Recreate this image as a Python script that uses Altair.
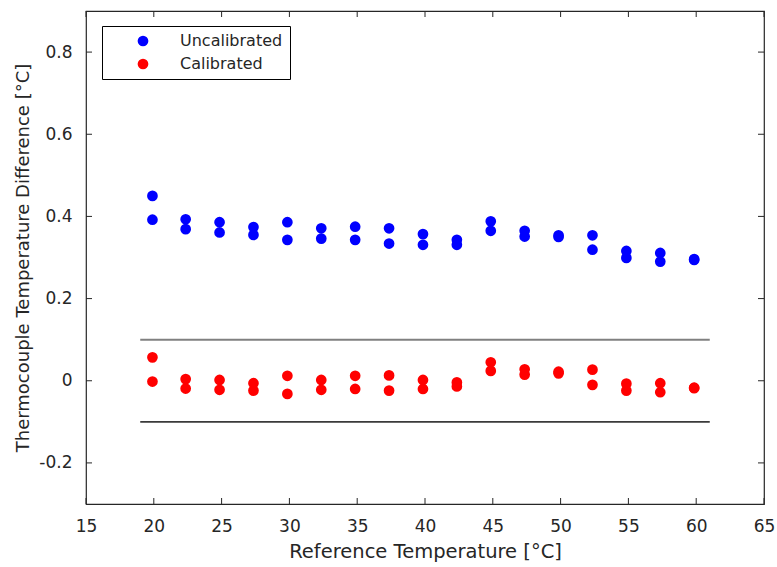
import altair as alt
import pandas as pd

# Reference temperatures (x positions of each measurement column)
ref_temp = [19.9, 22.35, 24.85, 27.35, 29.85, 32.35, 34.85, 37.35, 39.85,
            42.35, 44.85, 47.35, 49.85, 52.35, 54.85, 57.35, 59.85]
# Uncalibrated differences (two thermocouples)
uncal_a = [0.450, 0.393, 0.386, 0.374, 0.386, 0.371, 0.375, 0.371, 0.357,
           0.343, 0.388, 0.365, 0.354, 0.354, 0.316, 0.311, 0.296]
uncal_b = [0.392, 0.369, 0.361, 0.355, 0.343, 0.346, 0.343, 0.334, 0.331,
           0.331, 0.365, 0.351, 0.350, 0.319, 0.299, 0.290, 0.294]
# Calibrated differences
cal_a = [0.057, 0.004, 0.002, -0.006, 0.012, 0.002, 0.012, 0.013, 0.002,
         -0.004, 0.045, 0.028, 0.022, 0.027, -0.007, -0.006, -0.018]
cal_b = [-0.002, -0.019, -0.022, -0.024, -0.032, -0.022, -0.020, -0.024, -0.020,
         -0.014, 0.024, 0.015, 0.018, -0.010, -0.024, -0.028, -0.017]

series_names = ["Uncalibrated", "Calibrated"]
series_colors = ["#0000ff", "#ff0000"]

# Tolerance band lines
band_y = [0.1, -0.1]
band_x0 = [19, 19]
band_x1 = [61, 61]
band_colors = ["#808080", "#3a3a3a"]

x_ticks = [15, 20, 25, 30, 35, 40, 45, 50, 55, 60, 65]
y_ticks = [-0.2, 0, 0.2, 0.4, 0.6, 0.8]

rows = []
for i, t in enumerate(ref_temp):
    rows.append({"x": t, "y": uncal_a[i], "series": "Uncalibrated"})
    rows.append({"x": t, "y": uncal_b[i], "series": "Uncalibrated"})
for i, t in enumerate(ref_temp):
    rows.append({"x": t, "y": cal_a[i], "series": "Calibrated"})
    rows.append({"x": t, "y": cal_b[i], "series": "Calibrated"})
df = pd.DataFrame(rows)

bands = pd.DataFrame({"x": band_x0, "x2": band_x1, "y": band_y,
                      "c": ["upper", "lower"]})
xt = pd.DataFrame({"t": x_ticks})
yt = pd.DataFrame({"t": y_ticks})

W, H = 678, 493
FONT = "DejaVu Sans"
TXT = "#262626"

xscale = alt.Scale(domain=[15, 65], nice=False, zero=False)
yscale = alt.Scale(domain=[-0.3, 0.9], nice=False, zero=False)

x_axis = alt.Axis(values=x_ticks, title="Reference Temperature [°C]", grid=False,
                  domain=False, ticks=False, tickSize=0, labelPadding=14,
                  labelFontSize=17, titleFontSize=19.5, labelColor=TXT,
                  titleColor=TXT, titleFontWeight="normal", titlePadding=8,
                  labelFont=FONT, titleFont=FONT, labelFlush=False)
y_axis = alt.Axis(values=y_ticks, title="Thermocouple Temperature Difference [°C]",
                  grid=False, domain=False, ticks=False, tickSize=0,
                  labelPadding=14, labelFontSize=17, titleFontSize=18,
                  labelColor=TXT, titleColor=TXT, titleFontWeight="normal",
                  titleX=-54, labelFont=FONT, titleFont=FONT,
                  labelFlush=False,
                  labelExpr="datum.value == 0 ? '0' : replace(format(datum.value, '.1f'), '\u2212', '-')")

points = alt.Chart(df).mark_circle(size=115, opacity=1).encode(
    x=alt.X("x:Q", scale=xscale, axis=x_axis),
    y=alt.Y("y:Q", scale=yscale, axis=y_axis),
    color=alt.Color("series:N",
                    scale=alt.Scale(domain=series_names, range=series_colors),
                    sort=series_names,
                    legend=alt.Legend(title=None, orient="none", legendX=16,
                                      legendY=15, symbolType="circle",
                                      symbolSize=115, labelFontSize=16,
                                      labelFont=FONT, labelColor=TXT,
                                      strokeColor="#000000", fillColor="#ffffff",
                                      padding=7, symbolOffset=26, labelOffset=29,
                                      rowPadding=7, labelLimit=220)),
)

lines = alt.Chart(bands).mark_rule().encode(
    x=alt.X("x:Q", scale=xscale),
    x2="x2:Q",
    y=alt.Y("y:Q", scale=yscale),
    color=alt.Color("c:N", scale=alt.Scale(domain=["upper", "lower"],
                                           range=band_colors), legend=None),
    strokeWidth=alt.StrokeWidth("c:N", scale=alt.Scale(domain=["upper", "lower"],
                                                       range=[2, 1.6]),
                                legend=None),
)

TL = 6
tick_color = "#262626"
bottom_ticks = alt.Chart(xt).mark_rule(color=tick_color, strokeWidth=1).encode(
    x=alt.X("t:Q", scale=xscale), y=alt.value(H), y2=alt.value(H - TL))
top_ticks = alt.Chart(xt).mark_rule(color=tick_color, strokeWidth=1).encode(
    x=alt.X("t:Q", scale=xscale), y=alt.value(0), y2=alt.value(TL))
left_ticks = alt.Chart(yt).mark_rule(color=tick_color, strokeWidth=1).encode(
    y=alt.Y("t:Q", scale=yscale), x=alt.value(0), x2=alt.value(TL))
right_ticks = alt.Chart(yt).mark_rule(color=tick_color, strokeWidth=1).encode(
    y=alt.Y("t:Q", scale=yscale), x=alt.value(W), x2=alt.value(W - TL))

chart = alt.layer(lines, points, bottom_ticks, top_ticks, left_ticks,
                  right_ticks).resolve_scale(color="independent").properties(
    width=W, height=H,
    autosize=alt.AutoSizeParams(type="none"),
    padding={"left": 86, "top": 11, "right": 13, "bottom": 63},
    background="#ffffff",
).configure_view(stroke="#262626", strokeWidth=1.2)

chart.save("out.html", embed_options={"renderer": "svg", "actions": False})
